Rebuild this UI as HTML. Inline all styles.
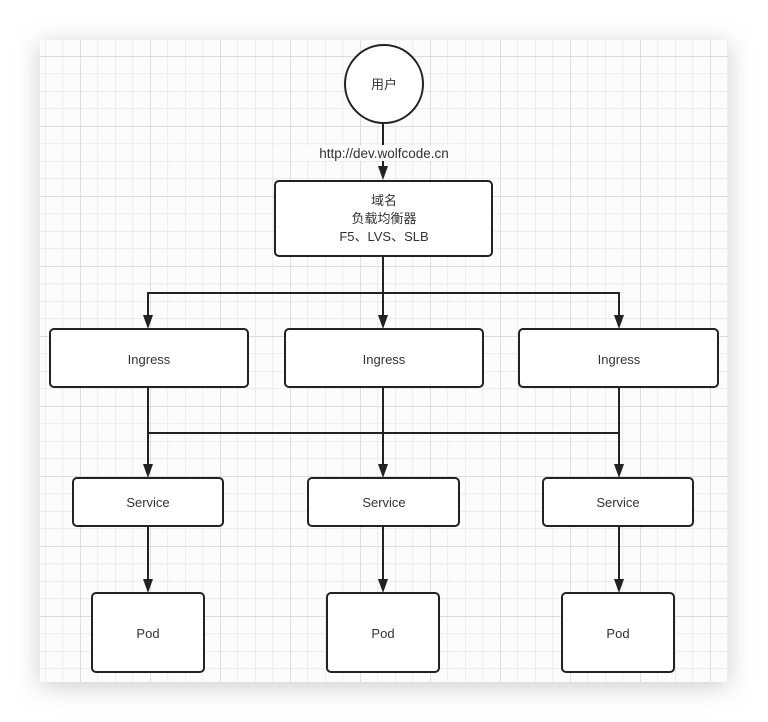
<!DOCTYPE html>
<html><head><meta charset="utf-8"><style>
html,body{margin:0;padding:0;background:#fff;width:768px;height:722px;overflow:hidden}
</style></head><body>
<svg width="768" height="722" xmlns="http://www.w3.org/2000/svg" style="display:block">
<defs>
<filter id="sh" x="-10%" y="-10%" width="120%" height="120%"><feGaussianBlur stdDeviation="12"/></filter>
<pattern id="minor" x="10" y="21" width="17.5" height="17.5" patternUnits="userSpaceOnUse">
<path d="M0 0H17.5M0 0V17.5" stroke="#e2e4e2" stroke-width="1.2" fill="none"/></pattern>
<pattern id="major" x="10" y="56" width="70" height="70" patternUnits="userSpaceOnUse">
<path d="M0 0H70M0 0V70" stroke="#d2d5d2" stroke-width="1.4" fill="none"/></pattern>
</defs>
<rect x="40" y="44" width="688" height="642" fill="#ccc" filter="url(#sh)"/>
<rect x="40" y="40" width="688" height="642" fill="#fbfcfb"/>
<rect x="40" y="40" width="688" height="642" fill="url(#minor)"/>
<rect x="40" y="40" width="688" height="642" fill="url(#major)"/>
<g stroke="#222" stroke-width="2" fill="none">
<line x1="383" y1="123" x2="383" y2="172"/>
<line x1="383" y1="256" x2="383" y2="320"/>
<polyline points="148,320 148,293 619,293 619,320" />
<line x1="148" y1="387" x2="148" y2="469"/>
<line x1="383" y1="387" x2="383" y2="469"/>
<line x1="619" y1="387" x2="619" y2="469"/>
<line x1="148" y1="433" x2="619" y2="433"/>
<line x1="148" y1="526" x2="148" y2="584"/>
<line x1="383" y1="526" x2="383" y2="584"/>
<line x1="619" y1="526" x2="619" y2="584"/>
</g>
<rect x="303" y="145" width="162" height="16" fill="#fbfcfb"/>
<g fill="#222">
<path d="M378 166h10l-5 14z"/>
<path d="M143 315h10l-5 14z"/><path d="M378 315h10l-5 14z"/><path d="M614 315h10l-5 14z"/>
<path d="M143 464h10l-5 14z"/><path d="M378 464h10l-5 14z"/><path d="M614 464h10l-5 14z"/>
<path d="M143 579h10l-5 14z"/><path d="M378 579h10l-5 14z"/><path d="M614 579h10l-5 14z"/>
</g>
<g stroke="#222" stroke-width="2" fill="#fff">
<circle cx="384" cy="84" r="39"/>
<rect x="275" y="181" width="217" height="75" rx="4"/>
<rect x="50" y="329" width="198" height="58" rx="4"/>
<rect x="285" y="329" width="198" height="58" rx="4"/>
<rect x="519" y="329" width="199" height="58" rx="4"/>
<rect x="73" y="478" width="150" height="48" rx="4"/>
<rect x="308" y="478" width="151" height="48" rx="4"/>
<rect x="543" y="478" width="150" height="48" rx="4"/>
<rect x="92" y="593" width="112" height="79" rx="4"/>
<rect x="327" y="593" width="112" height="79" rx="4"/>
<rect x="562" y="593" width="112" height="79" rx="4"/>
</g>
<g font-family="'Liberation Sans','Noto Sans CJK SC',sans-serif" font-size="13" fill="#333" text-anchor="middle">
<text x="384" y="89">用户</text>
<text x="384" y="158" font-size="13.5">http://dev.wolfcode.cn</text>
<text x="384" y="205">域名</text>
<text x="384" y="223">负载均衡器</text>
<text x="384" y="241">F5、LVS、SLB</text>
<text x="149" y="364">Ingress</text>
<text x="384" y="364">Ingress</text>
<text x="619" y="364">Ingress</text>
<text x="148" y="507">Service</text>
<text x="384" y="507">Service</text>
<text x="618" y="507">Service</text>
<text x="148" y="638">Pod</text>
<text x="383" y="638">Pod</text>
<text x="618" y="638">Pod</text>
</g>
</svg>
</body></html>
